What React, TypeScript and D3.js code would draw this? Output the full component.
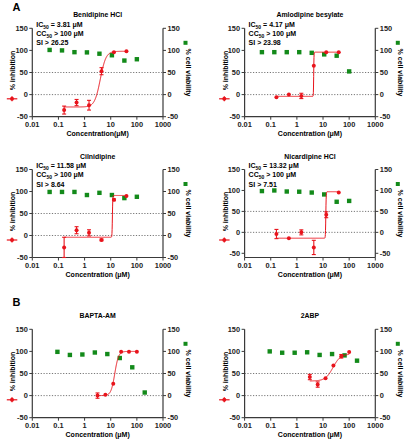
import React from "react";
import * as d3 from "d3";

// ---------- data ----------
const inhibConcA = [0.165, 0.494, 1.48, 4.44, 13.3, 40];
const viabConcA = [0.046, 0.137, 0.41, 1.23, 3.7, 11.1, 33.3, 100];
const inhibConcB = [3.125, 6.25, 12.5, 25, 50, 100];
const viabConcB = [0.0914, 0.274, 0.823, 2.47, 7.41, 22.2, 66.7, 200];

const beniInhib = [-35, -18, -24, 53, 96, 98];
const beniErr = [9, 7, 11, 8, 1, 1];
const beniViab = [101, 100, 96, 95.5, 92.5, 89, 77, 80];

const amloInhib = [-6, 0, -3, 65, 96, 96];
const amloErr = [1, 1, 6, 1, 1, 1];
const amloViab = [96, 96, 96, 96, 94.5, 91, 88, 52.5];

const cilnInhib = [-27, 12, 6, -10, 81, 90];
const cilnErr = [23, 8, 7, 2, 2, 1];
const cilnViab = [99, 99, 99, 92, 97, 92, 85, 88];

const nicaInhib = [-4, -14, 0, -36, 42, 95];
const nicaErr = [11, 1, 6, 17, 7, 1];
const nicaViab = [98.5, 100, 97.5, 97, 95, 90.5, 73, 75];

const baptaInhib = [0, 2, 27, 99, 99, 99];
const baptaErr = [6, 1, 1, 1, 1, 1];
const baptaViab = [99, 92, 93, 97.5, 94, 85, 64, 7];

const abpInhib = [42, 25, 39, 68, 89, 98.5];
const abpErr = [6, 6, 1, 1, 4, 1];
const abpViab = [100, 97, 97, 98, 92, 94, 91, 79];

// fitted curve parameters: [bottom, top, EC50, hill]
const beniFit = [-28, 98, 4.0, 4];
const amloFit = [-4, 96, 4.4, 80];
const cilnFit = [-4, 91, 11.6, 60];
const nicaFit = [-14, 97, 12.8, 60];
const baptaFit = [0, 100, 14.3, 6];
const abpFit = [33, 94, 24, 3];

const xTicks = [0.01, 0.1, 1, 10, 100, 1000];
const xTickLabels = ["0.01", "0.1", "1", "10", "100", "1000"];
const yTicks = [-50, 0, 50, 100, 150];

const RED = "#e8141c";
const GREEN = "#138a1a";
const AXIS = "#3a3a3a";
const FONT = "'Liberation Sans', Arial, sans-serif";

type PanelProps = {
  x0: number; x1: number; y0: number; y1: number;
  yMin: number;
  title: string;
  xTitle: string;
  notes?: string[][];
  inhibConc: number[]; inhib: number[]; err: number[];
  viabConc: number[]; viab: number[];
  fit: number[];
};

function Panel(p: PanelProps) {
  const x = d3.scaleLog().domain([0.01, 1000]).range([p.x0, p.x1]);
  const y = d3.scaleLinear().domain([p.yMin, 150]).range([p.y1, p.y0]);
  const [bot, top, ec50, hill] = p.fit;
  const f = (c: number) => bot + (top - bot) / (1 + Math.pow(ec50 / c, hill));
  const cMin = d3.min(p.inhibConc) as number;
  const cMax = d3.max(p.inhibConc) as number;
  const samples = d3.range(0, 401).map((i) => cMin * Math.pow(cMax / cMin, i / 400));
  const line = d3.line<number>().x((c) => x(c)).y((c) => y(f(c)))(samples) || "";
  const midY = (p.y0 + p.y1) / 2 - 2;
  const tickFs = 7.4;
  return (
    <g fontFamily={FONT} fontWeight="bold">
      <text x={(p.x0 + p.x1) / 2} y={p.y0 - 11} textAnchor="middle" fontSize={6.9}>{p.title}</text>
      {p.notes && p.notes.map((parts, i) => (
        <text key={i} x={p.x0 + 4} y={p.y0 - 1.5 + i * 9.3} fontSize={7}>
          {parts.map((s, j) =>
            j === 1 ? <tspan key={j} fontSize={5} dy={1.8}>{s}</tspan> :
            j === 2 ? <tspan key={j} dy={-1.8}>{s}</tspan> : <tspan key={j}>{s}</tspan>)}
        </text>
      ))}
      {/* reference lines */}
      {[0, 50].map((v) => (
        <line key={v} x1={p.x0} x2={p.x1} y1={y(v)} y2={y(v)} stroke="#555" strokeWidth={0.8} strokeDasharray="1.2,1.6" />
      ))}
      {/* axes */}
      <line x1={p.x0} x2={p.x0} y1={p.y0} y2={p.y1} stroke={AXIS} strokeWidth={1.2} />
      <line x1={p.x1} x2={p.x1} y1={p.y0} y2={p.y1} stroke={AXIS} strokeWidth={1.2} />
      <line x1={p.x0} x2={p.x1} y1={p.y1} y2={p.y1} stroke={AXIS} strokeWidth={1.2} />
      {yTicks.map((v) => (
        <g key={v}>
          <line x1={p.x0 - 3} x2={p.x0} y1={y(v)} y2={y(v)} stroke={AXIS} strokeWidth={1} />
          <line x1={p.x1} x2={p.x1 + 3} y1={y(v)} y2={y(v)} stroke={AXIS} strokeWidth={1} />
          <text x={p.x0 - 4.5} y={y(v) + 2.6} textAnchor="end" fontSize={tickFs} fill="#222">{v}</text>
          <text x={p.x1 + 4.5} y={y(v) + 2.6} textAnchor="start" fontSize={tickFs} fill="#222">{v}</text>
        </g>
      ))}
      {xTicks.map((v, i) => (
        <g key={v}>
          <line x1={x(v)} x2={x(v)} y1={p.y1} y2={p.y1 + 3} stroke={AXIS} strokeWidth={1} />
          <text x={x(v)} y={p.y1 + 10} textAnchor="middle" fontSize={tickFs} fill="#222">{xTickLabels[i]}</text>
        </g>
      ))}
      <text x={(p.x0 + p.x1) / 2} y={p.y1 + 19.5} textAnchor="middle" fontSize={7}>{p.xTitle}</text>
      {/* left axis title + legend */}
      <text transform={`translate(${p.x0 - 17},${midY}) rotate(-90)`} textAnchor="middle" fontSize={7}>% inhibition</text>
      <g>
        <line x1={p.x0 - 25.5} x2={p.x0 - 15} y1={p.y0 + 70.5} y2={p.y0 + 70.5} stroke={RED} strokeWidth={1.2} />
        <line x1={p.x0 - 20.3} x2={p.x0 - 20.3} y1={p.y0 + 68} y2={p.y0 + 73} stroke={RED} strokeWidth={1.2} />
        <circle cx={p.x0 - 20.3} cy={p.y0 + 70.5} r={2} fill={RED} />
      </g>
      {/* right axis title + legend */}
      <text transform={`translate(${p.x1 + 22.5},${midY + 2}) rotate(90)`} textAnchor="middle" fontSize={7}>% cell viability</text>
      <rect x={p.x1 + 20.5} y={p.y0 + 12.5} width={4} height={4} fill={GREEN} />
      {/* viability squares */}
      {p.viabConc.map((c, i) => (
        <rect key={i} x={x(c) - 2.2} y={y(p.viab[i]) - 2.2} width={4.4} height={4.4} fill={GREEN} />
      ))}
      {/* fitted curve */}
      <path d={line} fill="none" stroke={RED} strokeWidth={1} />
      {/* inhibition points with error bars */}
      {p.inhibConc.map((c, i) => {
        const cx = x(c);
        const e = p.err[i];
        return (
          <g key={i}>
            {e > 1.5 && (
              <g stroke={RED} strokeWidth={1.1}>
                <line x1={cx} x2={cx} y1={y(p.inhib[i] - e)} y2={y(p.inhib[i] + e)} />
                <line x1={cx - 2} x2={cx + 2} y1={y(p.inhib[i] - e)} y2={y(p.inhib[i] - e)} />
                <line x1={cx - 2} x2={cx + 2} y1={y(p.inhib[i] + e)} y2={y(p.inhib[i] + e)} />
              </g>
            )}
            <circle cx={cx} cy={y(p.inhib[i])} r={2} fill={RED} />
          </g>
        );
      })}
    </g>
  );
}

export default function App() {
  const rowA1 = { y0: 28.3, y1: 116.7 };
  const rowA2 = { y0: 169.5, y1: 257.5 };
  const rowB = { y0: 329.3, y1: 417.7 };
  const colL = { x0: 32.3, x1: 163 };
  const colR = { x0: 244.6, x1: 375.3 };
  return (
    <svg width={409} height={440} style={{ position: "absolute", left: 0, top: 0, background: "#fff" }}>
      <text x={12.5} y={10.5} fontFamily={FONT} fontWeight="bold" fontSize={11}>A</text>
      <text x={12.5} y={306} fontFamily={FONT} fontWeight="bold" fontSize={11}>B</text>
      <Panel {...colL} {...rowA1} yMin={-50} title="Benidipine HCl" xTitle="Concentration(μM)"
        notes={[["IC", "50", " = 3.81 μM"], ["CC", "50", " > 100 μM"], ["SI > 26.25"]]}
        inhibConc={inhibConcA} inhib={beniInhib} err={beniErr} viabConc={viabConcA} viab={beniViab} fit={beniFit} />
      <Panel {...colR} {...rowA1} yMin={-50} title="Amlodipine besylate" xTitle="Concentration (μM)"
        notes={[["IC", "50", " = 4.17 μM"], ["CC", "50", " > 100 μM"], ["SI > 23.98"]]}
        inhibConc={inhibConcA} inhib={amloInhib} err={amloErr} viabConc={viabConcA} viab={amloViab} fit={amloFit} />
      <Panel {...colL} {...rowA2} yMin={-50} title="Cilnidipine" xTitle="Concentration (μM)"
        notes={[["IC", "50", " = 11.58 μM"], ["CC", "50", " > 100 μM"], ["SI > 8.64"]]}
        inhibConc={inhibConcA} inhib={cilnInhib} err={cilnErr} viabConc={viabConcA} viab={cilnViab} fit={cilnFit} />
      <Panel {...colR} {...rowA2} yMin={-60} title="Nicardipine HCl" xTitle="Concentration (μM)"
        notes={[["IC", "50", " = 13.32 μM"], ["CC", "50", " > 100 μM"], ["SI > 7.51"]]}
        inhibConc={inhibConcA} inhib={nicaInhib} err={nicaErr} viabConc={viabConcA} viab={nicaViab} fit={nicaFit} />
      <Panel {...colL} {...rowB} yMin={-50} title="BAPTA-AM" xTitle="Concentration (μM)"
        inhibConc={inhibConcB} inhib={baptaInhib} err={baptaErr} viabConc={viabConcB} viab={baptaViab} fit={baptaFit} />
      <Panel {...colR} {...rowB} yMin={-50} title="2ABP" xTitle="Concentration (μM)"
        inhibConc={inhibConcB} inhib={abpInhib} err={abpErr} viabConc={viabConcB} viab={abpViab} fit={abpFit} />
    </svg>
  );
}
